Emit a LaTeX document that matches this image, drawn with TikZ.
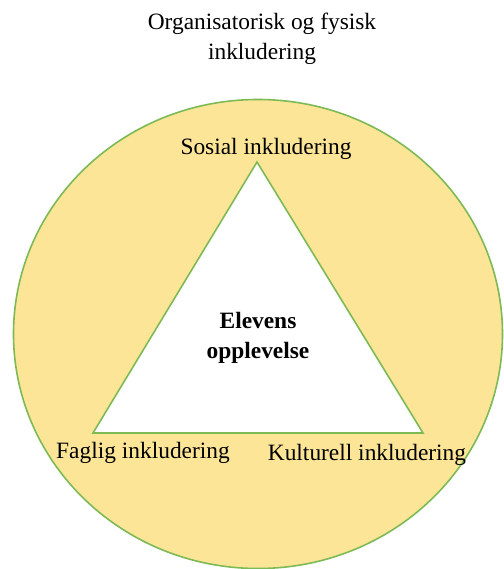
\documentclass[tikz,border=0pt]{standalone}
\usepackage{fontspec}
\setmainfont{Liberation Serif}
\definecolor{fillyel}{HTML}{FCE597}
\definecolor{edgegreen}{HTML}{7DBA55}
\begin{document}
\begin{tikzpicture}[x=1pt,y=-1pt,
  lbl/.style={font=\fontsize{23.4}{30.5}\selectfont, inner sep=0pt, align=center},
  centertext/.style={font=\fontsize{23.4}{30}\selectfont\bfseries, inner sep=0pt, align=center},
  shapeline/.style={draw=edgegreen, line width=1.6pt}]
\useasboundingbox (0,0) rectangle (503,569);
\path[fill=fillyel, shapeline] (258,334) ellipse [x radius=244.5, y radius=234.5];
\coordinate (top) at (257,162);
\coordinate (bl) at (93,433);
\coordinate (br) at (423,433);
\path[fill=white, shapeline, line join=miter] (top) -- (bl) -- (br) -- cycle;
\node[lbl] (title) at (262,39) {Organisatorisk og fysisk\\inkludering};
\node[lbl] (sosial) at (266,149) {Sosial inkludering};
\node[lbl] (faglig) at (143,453) {Faglig inkludering};
\node[lbl] (kult) at (367,455) {Kulturell inkludering};
\node[centertext] (elev) at (258,338) {Elevens\\opplevelse};
\end{tikzpicture}
\end{document}
